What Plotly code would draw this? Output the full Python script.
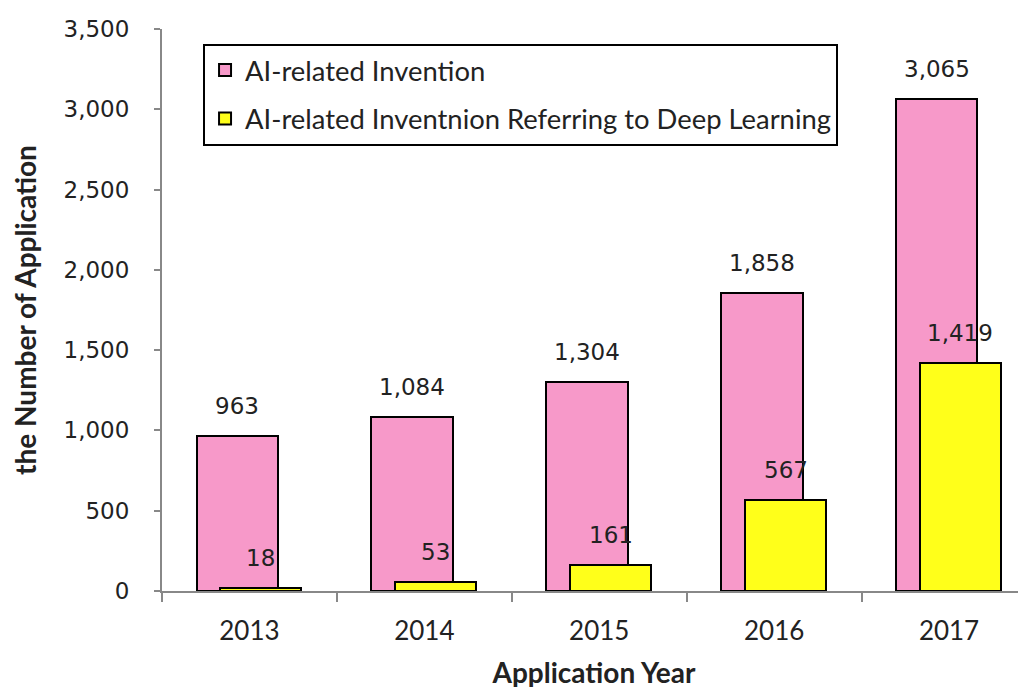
import plotly.graph_objects as go

years = ["2013", "2014", "2015", "2016", "2017"]
ai_related = [963, 1084, 1304, 1858, 3065]
deep_learning = [18, 53, 161, 567, 1419]
series_names = ["AI-related Invention", "AI-related Inventnion Referring to Deep Learning"]
y_ticks = [0, 500, 1000, 1500, 2000, 2500, 3000, 3500]

PINK = "#F799C9"
YELLOW = "#FFFF1A"
BAR_W = 0.465
PINK_SHIFT = -0.07
YEL_SHIFT = 0.065

fig = go.Figure()
fig.add_trace(go.Bar(
    x=years, y=ai_related, name=series_names[0],
    width=BAR_W, offset=PINK_SHIFT - BAR_W / 2,
    marker=dict(color=PINK, line=dict(color="black", width=2)),
    legendgroup="a",
))
fig.add_trace(go.Bar(
    x=years, y=deep_learning, name=series_names[1],
    width=BAR_W, offset=YEL_SHIFT - BAR_W / 2,
    marker=dict(color=YELLOW, line=dict(color="black", width=2)),
    legendgroup="b",
))

num_font = dict(family="DejaVu Sans", size=23, color="#222")
annotations = []
for i, v in enumerate(ai_related):
    annotations.append(dict(x=i + PINK_SHIFT, y=v, xref="x", yref="y", text=f"{v:,}",
                            showarrow=False, yshift=30, font=num_font))
for i, v in enumerate(deep_learning):
    annotations.append(dict(x=i + YEL_SHIFT, y=v, xref="x", yref="y", text=f"{v:,}",
                            showarrow=False, yshift=30, font=num_font))

fig.update_layout(
    width=1026, height=687,
    margin=dict(l=154, r=8, t=18, b=104),
    paper_bgcolor="white", plot_bgcolor="white",
    barmode="overlay",
    bargap=0,
    annotations=annotations,
    legend=dict(
        x=0.0475, y=0.974, xanchor="left", yanchor="top",
        bordercolor="black", borderwidth=2, bgcolor="white",
        font=dict(family="Lato", size=27.4, color="#222"),
        tracegroupgap=10,
    ),
    xaxis=dict(
        type="category", range=[-0.5, 4.44],
        tickson="boundaries", ticks="outside", ticklen=9, tickcolor="#888", tickwidth=2,
        ticklabelstandoff=16,
        showline=True, linecolor="#888", linewidth=2,
        tickfont=dict(family="Lato", size=26, color="#222"),
        title=dict(text="<b>Application Year</b>", font=dict(family="Lato", size=28, color="#222"), standoff=18),
        showgrid=False,
    ),
    yaxis=dict(
        range=[0, 3500], tickvals=y_ticks, tickformat=",",
        ticks="outside", ticklen=6, tickcolor="#888", tickwidth=2,
        ticklabelstandoff=20,
        showline=True, linecolor="#888", linewidth=2,
        tickfont=num_font,
        title=dict(text="<b>the Number of Application</b>", font=dict(family="Lato", size=28, color="#222"), standoff=25),
        showgrid=False, zeroline=False,
    ),
)

fig.write_html("out.html")
